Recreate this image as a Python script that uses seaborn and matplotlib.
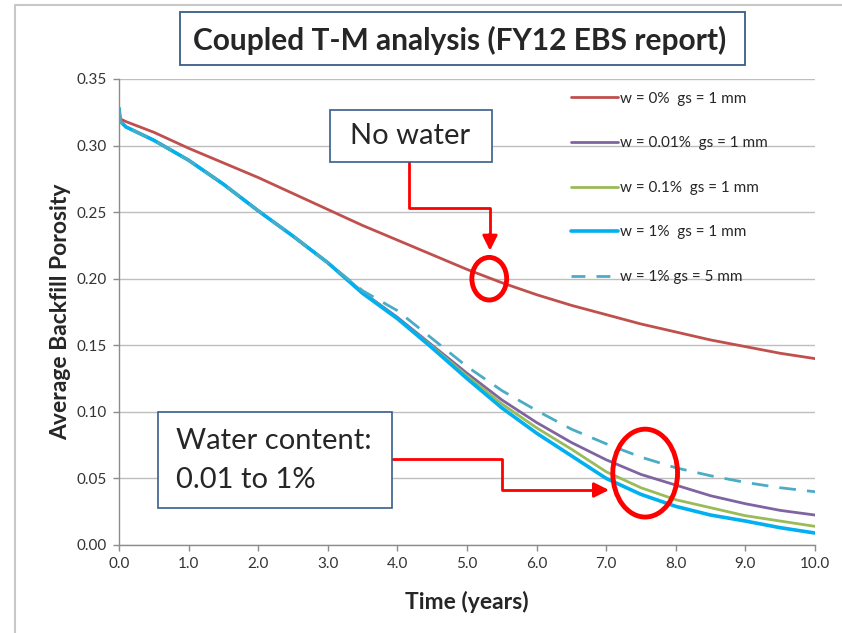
import matplotlib
matplotlib.use("Agg")
import matplotlib.pyplot as plt
from matplotlib.patches import Rectangle, Ellipse
from matplotlib.lines import Line2D
import seaborn as sns
import pandas as pd

# time axis (years) and porosity
years = [0, 0.02, 0.1, 0.3, 0.5, 1, 1.5, 2, 2.5, 3, 3.5, 4, 4.5, 5, 5.5, 6, 6.5, 7, 7.5, 8, 8.5, 9, 9.5, 10]
w0_gs1 = [0.322, 0.320, 0.318, 0.314, 0.310, 0.298, 0.287, 0.276, 0.264, 0.252, 0.240, 0.229, 0.218, 0.207,
          0.197, 0.188, 0.180, 0.173, 0.166, 0.160, 0.154, 0.149, 0.144, 0.140]
w001_gs1 = [0.328, 0.318, 0.314, 0.309, 0.304, 0.289, 0.271, 0.251, 0.232, 0.212, 0.190, 0.171, 0.150, 0.129,
            0.109, 0.092, 0.077, 0.064, 0.053, 0.045, 0.037, 0.031, 0.026, 0.0225]
w01_gs1 = [0.328, 0.318, 0.314, 0.309, 0.304, 0.289, 0.271, 0.251, 0.232, 0.212, 0.190, 0.170, 0.149, 0.127,
           0.106, 0.088, 0.072, 0.055, 0.043, 0.034, 0.028, 0.022, 0.018, 0.014]
w1_gs1 = [0.328, 0.318, 0.314, 0.309, 0.304, 0.289, 0.271, 0.251, 0.232, 0.212, 0.189, 0.170, 0.148, 0.125,
          0.103, 0.084, 0.067, 0.050, 0.038, 0.029, 0.0225, 0.018, 0.013, 0.009]
w1_gs5 = [0.328, 0.318, 0.314, 0.309, 0.304, 0.289, 0.271, 0.251, 0.232, 0.212, 0.191, 0.176, 0.155, 0.134,
          0.116, 0.101, 0.087, 0.076, 0.066, 0.058, 0.052, 0.047, 0.043, 0.040]

labels = ["w = 0%  gs = 1 mm", "w = 0.01%  gs = 1 mm", "w = 0.1%  gs = 1 mm", "w = 1%  gs = 1 mm", "w = 1% gs = 5 mm"]
series = [w0_gs1, w001_gs1, w01_gs1, w1_gs1, w1_gs5]
colors = ["#C0504D", "#8064A2", "#9BBB59", "#00B0F0", "#4BACC6"]
widths = [2.0, 2.0, 2.0, 2.6, 2.0]

sns.set_style("white")
plt.rcParams["font.family"] = ["Lato", "DejaVu Sans"]

W, H = 842, 633
fig = plt.figure(figsize=(W / 100, H / 100), dpi=100)


def fx(x):
    return x / W


def fy(y):
    return 1 - y / H


ax = fig.add_axes([fx(119), fy(545), (815 - 119) / W, (545 - 79) / H])

for lab, vals, c, lw in zip(labels, series, colors, widths):
    df = pd.DataFrame({"t": years, "p": vals})
    sns.lineplot(data=df, x="t", y="p", ax=ax, color=c, lw=lw, label=lab)
ax.lines[-1].set_dashes([6, 4])

ax.set_xlim(0, 10)
ax.set_ylim(0, 0.35)
ax.set_xticks([i for i in range(11)])
ax.set_xticklabels(["%.1f" % i for i in range(11)])
ax.set_yticks([i * 0.05 for i in range(8)])
ax.set_yticklabels(["%.2f" % (i * 0.05) for i in range(8)])
ax.tick_params(axis="both", labelsize=11, colors="#8C8C8C", labelcolor="#333333", length=4, width=1, direction="out",
               left=True, bottom=True, pad=5)
ax.yaxis.grid(True, color="#BEBEBE", lw=1)
ax.set_axisbelow(True)
for s in ["top", "right"]:
    ax.spines[s].set_visible(False)
for s in ["left", "bottom"]:
    ax.spines[s].set_color("#8C8C8C")
    ax.spines[s].set_linewidth(1)

ax.set_xlabel("Time (years)", fontsize=16.5, fontweight="bold", labelpad=14)
ax.set_ylabel("Average Backfill Porosity", fontsize=16.5, fontweight="bold", labelpad=4)

leg = ax.legend(loc="upper left", bbox_to_anchor=(fx(557), fy(78)), bbox_transform=fig.transFigure,
                frameon=False, fontsize=11, handlelength=3.1, handletextpad=0.15, labelspacing=2.0)
leg.get_lines()[-1].set_dashes([5, 4])

# outer frame
fig.add_artist(Line2D([fx(15), 1], [fy(5), fy(5)], color="#C8C8C8", lw=1.5))
fig.add_artist(Line2D([fx(15), fx(15)], [fy(5), 0], color="#C8C8C8", lw=1.5))

# title box
fig.add_artist(Rectangle((fx(180), fy(65)), (745 - 180) / W, 53 / H, transform=fig.transFigure,
                         fc="white", ec="#385D8A", lw=1.3))
fig.text(fx(460), fy(40), "Coupled T-M analysis (FY12 EBS report)", ha="center", va="center",
         fontsize=21.5, fontweight="bold")

# "No water" callout
fig.add_artist(Rectangle((fx(330), fy(162)), (492 - 330) / W, 52 / H, transform=fig.transFigure,
                         fc="white", ec="#385D8A", lw=1.2, zorder=5))
fig.text(fx(410), fy(136), "No water", ha="center", va="center", fontsize=21, zorder=6)
ax.plot([4.17, 4.17, 5.33, 5.33], [0.288, 0.253, 0.253, 0.232], color="red", lw=2, clip_on=False, zorder=6)
ax.annotate("", xy=(5.33, 0.219), xytext=(5.33, 0.236),
            arrowprops=dict(arrowstyle="-|>,head_width=0.45,head_length=0.9", color="red", lw=2), zorder=6)
ax.add_patch(Ellipse((5.32, 0.2), 0.5, 0.032, fill=False, ec="red", lw=3.5, zorder=7))

# "Water content" callout
fig.add_artist(Rectangle((fx(158), fy(508)), (392 - 158) / W, 96 / H, transform=fig.transFigure,
                         fc="white", ec="#385D8A", lw=1.2, zorder=5))
fig.text(fx(176), fy(441), "Water content:", ha="left", va="center", fontsize=21, zorder=6)
fig.text(fx(176), fy(480), "0.01 to 1%", ha="left", va="center", fontsize=21, zorder=6)
ax.plot([3.92, 5.5, 5.5, 6.85], [0.0646, 0.0646, 0.0413, 0.0413], color="red", lw=2, zorder=6)
ax.annotate("", xy=(7.08, 0.0413), xytext=(6.8, 0.0413),
            arrowprops=dict(arrowstyle="-|>,head_width=0.45,head_length=0.9", color="red", lw=2), zorder=6)
ax.add_patch(Ellipse((7.56, 0.054), 0.93, 0.066, fill=False, ec="red", lw=3.5, zorder=7))

fig.savefig("out.png", dpi=100)
